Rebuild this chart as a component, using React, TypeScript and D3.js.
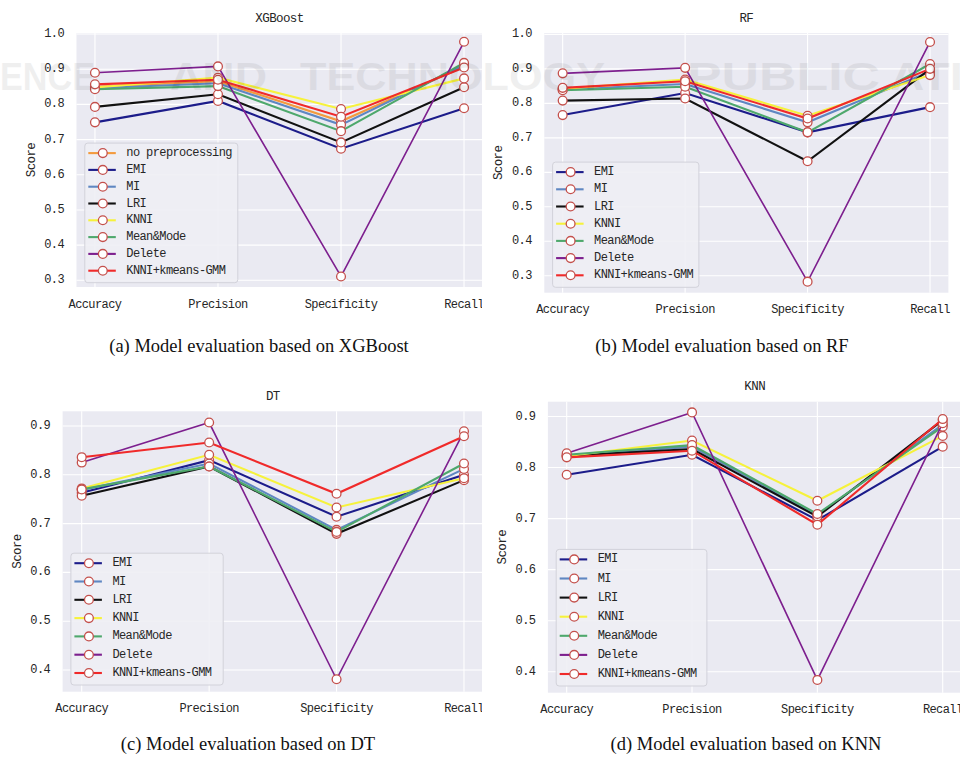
import * as d3 from "d3";

// metric categories on the x axis
const metrics = ["Accuracy", "Precision", "Specificity", "Recall"];

// imputation methods (legend order)
const methodsXGB = ["no preprocessing", "EMI", "MI", "LRI", "KNNI", "Mean&Mode", "Delete", "KNNI+kmeans-GMM"];
const methodsOther = ["EMI", "MI", "LRI", "KNNI", "Mean&Mode", "Delete", "KNNI+kmeans-GMM"];

const methodColors: Record<string, string> = {
  "no preprocessing": "#f39a3e",
  EMI: "#1c1c8a",
  MI: "#5f87c2",
  LRI: "#111111",
  KNNI: "#f6f23c",
  "Mean&Mode": "#4ea86c",
  Delete: "#7d1f8e",
  "KNNI+kmeans-GMM": "#f02a2a",
};

// scores per method: [Accuracy, Precision, Specificity, Recall]
const xgbScores = [
  [0.850, 0.866, 0.752, 0.908],
  [0.749, 0.810, 0.674, 0.789],
  [0.846, 0.860, 0.742, 0.912],
  [0.793, 0.829, 0.692, 0.849],
  [0.848, 0.876, 0.787, 0.874],
  [0.843, 0.852, 0.724, 0.918],
  [0.890, 0.908, 0.311, 0.978],
  [0.857, 0.870, 0.765, 0.905],
];

const rfScores = [
  [0.766, 0.830, 0.716, 0.789],
  [0.840, 0.856, 0.745, 0.892],
  [0.808, 0.814, 0.632, 0.899],
  [0.842, 0.869, 0.764, 0.882],
  [0.838, 0.848, 0.716, 0.914],
  [0.887, 0.903, 0.283, 0.978],
  [0.845, 0.864, 0.756, 0.900],
];

const dtScores = [
  [0.763, 0.830, 0.714, 0.800],
  [0.769, 0.823, 0.687, 0.812],
  [0.757, 0.817, 0.679, 0.789],
  [0.772, 0.841, 0.733, 0.793],
  [0.770, 0.817, 0.683, 0.823],
  [0.825, 0.907, 0.381, 0.889],
  [0.836, 0.866, 0.761, 0.879],
];

const knnScores = [
  [0.786, 0.825, 0.697, 0.841],
  [0.823, 0.841, 0.707, 0.884],
  [0.823, 0.836, 0.704, 0.893],
  [0.822, 0.853, 0.735, 0.862],
  [0.825, 0.844, 0.709, 0.880],
  [0.828, 0.908, 0.384, 0.887],
  [0.820, 0.833, 0.688, 0.895],
];

const ticksUpper = [0.3, 0.4, 0.5, 0.6, 0.7, 0.8, 0.9, 1.0];
const ticksLower = [0.4, 0.5, 0.6, 0.7, 0.8, 0.9];

const monoFont = "'Liberation Mono', 'DejaVu Sans Mono', monospace";
const textColor = "#262626";
const labelSize = 12;
const labelSpacing = -0.6;

const panels = [
  {
    title: "XGBoost", methods: methodsXGB, scores: xgbScores, ticks: ticksUpper,
    x0: 76.5, x1: 482.5, y0: 33, y1: 287, yDomain: [0.281, 1.003],
    legendW: 153, legendDy: 16.8, legendBottom: 282.7, clip: true,
    caption: "(a) Model evaluation based on XGBoost", capX: 259, capY: 352,
  },
  {
    title: "RF", methods: methodsOther, scores: rfScores, ticks: ticksUpper,
    x0: 544.3, x1: 948.4, y0: 33, y1: 292.7, yDomain: [0.251, 1.004],
    legendW: 146.3, legendDy: 17.2, legendBottom: 287.3, clip: false,
    caption: "(b) Model evaluation based on RF", capX: 722, capY: 352,
  },
  {
    title: "DT", methods: methodsOther, scores: dtScores, ticks: ticksLower,
    x0: 62.6, x1: 483.1, y0: 411.3, y1: 691.7, yDomain: [0.3556, 0.93],
    legendW: 152.3, legendDy: 18.3, legendBottom: 685, clip: true,
    caption: "(c) Model evaluation based on DT", capX: 248, capY: 750,
  },
  {
    title: "KNN", methods: methodsOther, scores: knnScores, ticks: ticksLower,
    x0: 547.9, x1: 961.5, y0: 401.7, y1: 692.7, yDomain: [0.359, 0.929],
    legendW: 150.7, legendDy: 19.1, legendBottom: 686, clip: false,
    caption: "(d) Model evaluation based on KNN", capX: 746, capY: 750,
  },
];

type PanelCfg = (typeof panels)[number];

function Panel({ cfg, idx }: { cfg: PanelCfg; idx: number }) {
  const x = d3.scalePoint<string>().domain(metrics).range([cfg.x0, cfg.x1]).padding(0.15);
  const y = d3.scaleLinear().domain(cfg.yDomain).range([cfg.y1, cfg.y0]);
  const line = d3
    .line<number>()
    .x((_, i) => x(metrics[i]) as number)
    .y((v) => y(v));

  const fmt = d3.format(".1f");
  const n = cfg.methods.length;
  const legH = 10 + (n - 1) * cfg.legendDy + 12;
  const legX = cfg.x0 + 8.3;
  const legY = cfg.legendBottom - legH;
  const cx = (cfg.x0 + cfg.x1) / 2;
  const cy = (cfg.y0 + cfg.y1) / 2;

  return (
    <g>
      <g clipPath={cfg.clip ? `url(#clipL${idx})` : undefined}>
        <rect x={cfg.x0} y={cfg.y0} width={cfg.x1 - cfg.x0} height={cfg.y1 - cfg.y0} fill="#eaeaf2" />
        {cfg.ticks.map((t) => (
          <line key={t} x1={cfg.x0} x2={cfg.x1} y1={y(t)} y2={y(t)} stroke="#fff" strokeWidth={1.1} />
        ))}
        {metrics.map((m) => (
          <line key={m} x1={x(m)} x2={x(m)} y1={cfg.y0} y2={cfg.y1} stroke="#fff" strokeWidth={1.1} />
        ))}

        {cfg.methods.map((name, i) => (
          <g key={name}>
            <path
              d={line(cfg.scores[i]) ?? ""}
              fill="none"
              stroke={methodColors[name]}
              strokeWidth={name === "Delete" ? 1.6 : 2.1}
            />
            {cfg.scores[i].map((v, j) => (
              <circle key={j} cx={x(metrics[j])} cy={y(v)} r={4.4} fill="#fff" stroke="#c4504c" strokeWidth={1.3} />
            ))}
          </g>
        ))}

        {metrics.map((m) => (
          <text
            key={m}
            x={x(m)}
            y={cfg.y1 + 17.5}
            textAnchor="middle"
            dominantBaseline="central"
            fontFamily={monoFont}
            fontSize={labelSize}
            letterSpacing={labelSpacing}
            fill={textColor}
          >
            {m}
          </text>
        ))}

        {/* legend */}
        <rect x={legX} y={legY} width={cfg.legendW} height={legH} rx={3} fill="#eeeef4" fillOpacity={0.9} stroke="#d2d2da" />
        {cfg.methods.map((name, i) => {
          const ry = legY + 10 + i * cfg.legendDy;
          return (
            <g key={name}>
              <line x1={legX + 3.5} x2={legX + 31} y1={ry} y2={ry} stroke={methodColors[name]} strokeWidth={2.1} />
              <circle cx={legX + 18} cy={ry} r={4.4} fill="#fff" stroke="#c4504c" strokeWidth={1.3} />
              <text
                x={legX + 41.5}
                y={ry}
                dominantBaseline="central"
                fontFamily={monoFont}
                fontSize={labelSize}
                letterSpacing={labelSpacing}
                fill={textColor}
              >
                {name}
              </text>
            </g>
          );
        })}
      </g>

      {cfg.ticks.map((t) => (
        <text
          key={t}
          x={cfg.x0 - 12.5}
          y={y(t)}
          textAnchor="end"
          dominantBaseline="central"
          fontFamily={monoFont}
          fontSize={labelSize}
          letterSpacing={labelSpacing}
          fill={textColor}
        >
          {fmt(t)}
        </text>
      ))}

      <text
        transform={`translate(${cfg.x0 - 45},${cy}) rotate(-90)`}
        textAnchor="middle"
        dominantBaseline="central"
        fontFamily={monoFont}
        fontSize={12.5}
        letterSpacing={labelSpacing}
        fill={textColor}
      >
        Score
      </text>

      <text
        x={cx}
        y={cfg.y0 - 14.5}
        textAnchor="middle"
        dominantBaseline="central"
        fontFamily={monoFont}
        fontSize={12.5}
        letterSpacing={labelSpacing}
        fill={textColor}
      >
        {cfg.title}
      </text>

      <text
        x={cfg.capX}
        y={cfg.capY}
        textAnchor="middle"
        fontFamily="'Liberation Serif', 'Times New Roman', serif"
        fontSize={18.5}
        fill="#111"
      >
        {cfg.caption}
      </text>
    </g>
  );
}

export default function App() {
  return (
    <svg
      width={960}
      height={760}
      viewBox="0 0 960 760"
      style={{ position: "absolute", left: 0, top: 0, background: "#fff" }}
    >
      <defs>
        {panels.map((p, i) => (
          <clipPath key={i} id={`clipL${i}`}>
            <rect x={0} y={0} width={482} height={760} />
          </clipPath>
        ))}
      </defs>
      <rect width={960} height={760} fill="#fff" />
      {panels.map((p, i) => (
        <Panel key={p.title} cfg={p} idx={i} />
      ))}

      {/* faint publisher watermark */}
      <g fontFamily="'Liberation Sans', Arial, sans-serif" fontWeight="bold" fontSize={39} fill="#000" opacity={0.06}>
        <text x={0} y={90} textLength={95} lengthAdjust="spacingAndGlyphs">ENCE</text>
        <text x={170} y={90} textLength={97} lengthAdjust="spacingAndGlyphs">AND</text>
        <text x={300} y={90} textLength={305} lengthAdjust="spacingAndGlyphs">TECHNOLOGY</text>
        <text x={687} y={90} textLength={193} lengthAdjust="spacingAndGlyphs">PUBLIC</text>
        <text x={890} y={90} textLength={110} lengthAdjust="spacingAndGlyphs">ATIO</text>
      </g>
    </svg>
  );
}
